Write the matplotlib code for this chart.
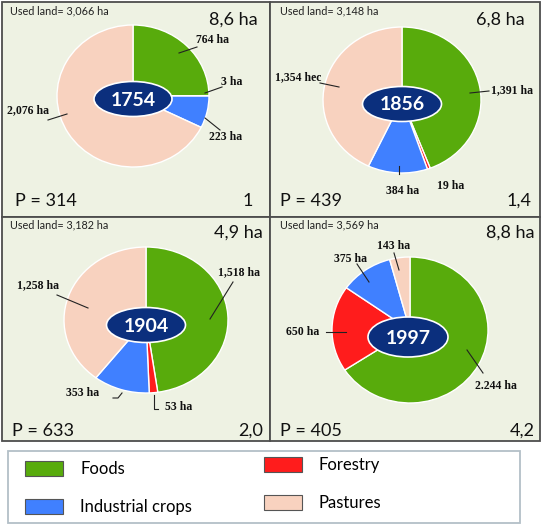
import matplotlib
matplotlib.use("Agg")
import matplotlib.pyplot as plt
from matplotlib.patches import Rectangle, Ellipse, Patch

# ---------------- data ----------------
years = ["1754", "1856", "1904", "1997"]
categories = ["Foods", "Forestry", "Industrial crops", "Pastures"]
foods = [764, 1391, 1518, 2244]
forestry = [3, 19, 53, 650]
industrial = [223, 384, 353, 375]
pastures = [2076, 1354, 1258, 143]
used_land = ["3,066", "3,148", "3,182", "3,569"]
per_capita = ["8,6 ha", "6,8 ha", "4,9 ha", "8,8 ha"]
population = [314, 439, 633, 405]
index_vals = ["1", "1,4", "2,0", "4,2"]
slice_labels = [
    ["764 ha", "3 ha", "223 ha", "2,076 ha"],
    ["1,391 ha", "19 ha", "384 ha", "1,354 hec"],
    ["1,518 ha", "53 ha", "353 ha", "1,258 ha"],
    ["2.244 ha", "650 ha", "375 ha", "143 ha"],
]

# ---------------- style / layout ----------------
colors = ["#58ab0c", "#ff1c1c", "#4080ff", "#f8d2bf"]
navy = "#0b2f7d"
panel_bg = "#eef2e3"
W, H = 543, 526
SANS = "Lato"
SERIF = "Liberation Serif"

# panel boxes (x0, y0, x1, y1) in pixels (y down)
panels = [(2, 2, 270, 217), (270, 2, 540, 217), (2, 217, 270, 441), (270, 217, 540, 441)]
# pie centre and radii (px)
pie_geom = [(133, 96, 76, 71), (402, 100, 79, 73), (146, 320, 82, 73), (410, 330, 78, 73)]
# central ellipse (cx, cy, w, h)
ell_geom = [(133, 99, 78, 35), (402, 104, 79, 35), (146, 325, 79, 35), (408, 337, 80, 40)]
# label text positions and leader lines (px)
label_pos = [
    [(212, 40), (232, 82), (226, 137), (28, 110)],
    [(512, 90), (451, 186), (403, 191), (298, 77)],
    [(239, 272), (179, 407), (83, 393), (38, 285)],
    [(496, 386), (303, 332), (351, 259), (394, 246)],
]
leaders = [
    [[(179, 53), (197, 47)], [(205, 93), (222, 87)], [(205, 118), (220, 130)], [(48, 120), (67, 114)]],
    [[(470, 93), (489, 91)], None, [(399, 166), (399, 174)], [(320, 83), (339, 87)]],
    [[(210, 319), (233, 282)], [(154, 395), (154, 409), (158, 409)], [(113, 398), (118, 398), (122, 393)], [(57, 295), (88, 308)]],
    [[(467, 350), (483, 373)], [(326, 332), (346, 332)], [(357, 264), (369, 282)], [(394, 253), (399, 270)]],
]
# corner text positions
used_pos = [(10, 11), (280, 11), (10, 225), (280, 225)]
percap_pos = [(258, 20), (525, 20), (263, 233), (535, 233)]
pop_pos = [(15, 201), (280, 201), (12, 431), (280, 431)]
idx_pos = [(253, 201), (532, 201), (263, 431), (535, 431)]

fig = plt.figure(figsize=(W / 100, H / 100), dpi=100)
fig.patch.set_facecolor("white")

bg = fig.add_axes([0, 0, 1, 1], zorder=0)
bg.set_xlim(0, W)
bg.set_ylim(H, 0)
bg.axis("off")

fg = fig.add_axes([0, 0, 1, 1], zorder=5)
fg.set_xlim(0, W)
fg.set_ylim(H, 0)
fg.axis("off")
fg.patch.set_alpha(0)

# panel backgrounds and frame
for (x0, y0, x1, y1) in panels:
    bg.add_patch(Rectangle((x0, y0), x1 - x0, y1 - y0, facecolor=panel_bg,
                           edgecolor="#4d4d4d", lw=1.3))

# legend frame
bg.add_patch(Rectangle((8, 451), 512, 72, facecolor="white", edgecolor="#b3bfc7", lw=1.3))

series = list(zip(foods, forestry, industrial, pastures))

for i in range(4):
    cx, cy, rx, ry = pie_geom[i]
    ax = fig.add_axes([(cx - rx) / W, 1 - (cy + ry) / H, 2 * rx / W, 2 * ry / H], zorder=2)
    ax.pie(series[i], colors=colors, startangle=90, counterclock=False, radius=1,
           wedgeprops=dict(edgecolor="white", linewidth=1.0))
    ax.set_aspect("auto")
    ax.set_xlim(-1, 1)
    ax.set_ylim(-1, 1)
    ax.axis("off")

    ex, ey, ew, eh = ell_geom[i]
    fg.add_patch(Ellipse((ex, ey), ew, eh, facecolor=navy, edgecolor="white", lw=1.2))
    fg.text(ex, ey + 1, years[i], color="white", fontsize=14, fontweight="bold",
            family=SANS, ha="center", va="center")

    for j in range(4):
        tx, ty = label_pos[i][j]
        fg.text(tx, ty, slice_labels[i][j], fontsize=8.5, fontweight="bold",
                family=SERIF, ha="center", va="center", color="#111111")
        ld = leaders[i][j]
        if ld:
            fg.plot([p[0] for p in ld], [p[1] for p in ld], color="#222222", lw=0.8)

    ux, uy = used_pos[i]
    fg.text(ux, uy, f"Used land= {used_land[i]} ha", fontsize=7.8, family=SANS,
            ha="left", va="center", color="#222222")
    px, py = percap_pos[i]
    fg.text(px, py, per_capita[i], fontsize=13, family=SANS, ha="right", va="center", color="#111111")
    qx, qy = pop_pos[i]
    fg.text(qx, qy, f"P = {population[i]}", fontsize=13, family=SANS, ha="left", va="center", color="#111111")
    ix, iy = idx_pos[i]
    fg.text(ix, iy, index_vals[i], fontsize=13, family=SANS, ha="right", va="center", color="#111111")

# legend (two columns)
handles = [Patch(facecolor=c, edgecolor="#555555", lw=0.8) for c in colors]
common = dict(frameon=False, prop={"family": SANS, "size": 12},
              handlelength=2.3, handleheight=1.0, handletextpad=1.0,
              labelspacing=1.3, borderpad=0, borderaxespad=0, loc="upper left")
leg1 = fig.legend([handles[0], handles[2]], [categories[0], categories[2]],
                  bbox_to_anchor=(25 / W, 1 - 461 / H), **common)
leg2 = fig.legend([handles[1], handles[3]], [categories[1], categories[3]],
                  bbox_to_anchor=(264 / W, 1 - 457 / H), **common)

fig.savefig("out.png", dpi=100, facecolor="white")
